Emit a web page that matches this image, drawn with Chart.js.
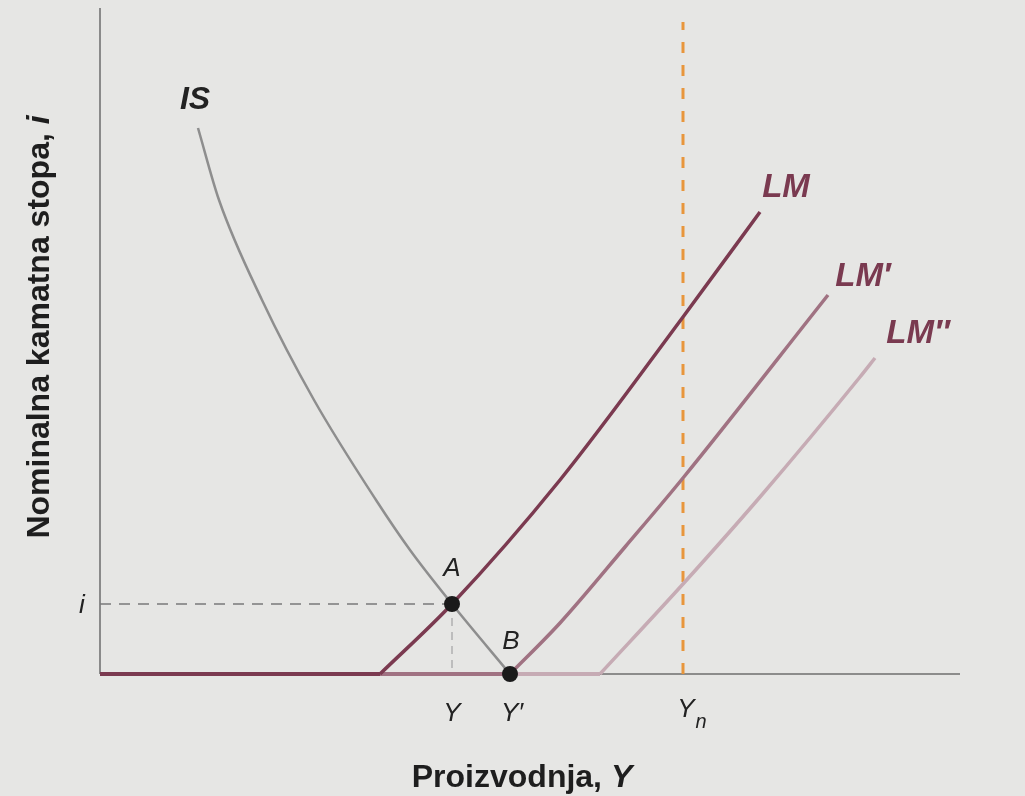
<!DOCTYPE html>
<html>
<head>
<meta charset="utf-8">
<script src="https://cdn.jsdelivr.net/npm/chart.js@4.4.1/dist/chart.umd.min.js"></script>
<style>
  html, body { margin: 0; padding: 0; background: #e6e6e4; }
  canvas { display: block; }
</style>
</head>
<body>
<canvas id="islmChart" width="1025" height="796"></canvas>
<script>
// curve values (output Y on x, interest rate i on y)
const isX = [9.8, 11.9, 16.2, 21.4, 27.6, 31, 35.2, 41];
const isY = [54.6, 47.4, 37.4, 27.4, 17.4, 12.4, 7, 0];

// rising parts of the LM curves, they start where the floor (i = 0) ends
const lmX = [28, 35.2, 46, 58.3, 66];
const lmY = [0, 7, 19.4, 35.7, 46.2];

const lm1X = [41, 46, 52.5, 58.3, 72.8];
const lm1Y = [0, 5.1, 12.7, 19.6, 37.9];

const lm2X = [50, 58.3, 66, 76, 77.5];
const lm2Y = [0, 9, 17.7, 29.7, 31.6];

const equilibriumX = [35.2, 41];   // A, B
const equilibriumY = [7, 0];
const pointNames = ["A", "B"];

const yNatural = 58.3;
const iLevel = 7;
const xMax = 86;
const yMax = 66.6;

const xTickLabels = ["Y", "Y\u2032", "Y"];

const CHART = document.getElementById("islmChart");
const FONT = "'Liberation Sans', Arial, sans-serif";

function toPoints(xs, ys) {
  let pts = [];
  for (let i = 0; i < xs.length; i++) {
    pts.push({ x: xs[i], y: ys[i] });
  }
  return pts;
}

function curve(label, xs, ys, color, width, order) {
  return {
    label: label,
    data: toPoints(xs, ys),
    showLine: true,
    borderColor: color,
    borderWidth: width,
    pointRadius: 0,
    cubicInterpolationMode: "monotone",
    order: order,
  };
}

function floor(label, xEnd, color, order) {
  return {
    label: label,
    data: [{ x: 0, y: 0 }, { x: xEnd, y: 0 }],
    showLine: true,
    borderColor: color,
    borderWidth: 4,
    pointRadius: 0,
    order: order,
  };
}

const bgPlugin = {
  id: "bg",
  beforeDraw(chart) {
    const c = chart.ctx;
    c.save();
    c.fillStyle = "#e6e6e4";
    c.fillRect(0, 0, chart.width, chart.height);
    c.restore();
  }
};

function twoPart(c, t1, t2, size, cx, cy) {
  c.font = "bold " + size + "px " + FONT;
  let w1 = c.measureText(t1).width;
  c.font = "italic bold " + size + "px " + FONT;
  let w2 = c.measureText(t2).width;
  let x0 = cx - (w1 + w2) / 2;
  c.textAlign = "left";
  c.font = "bold " + size + "px " + FONT;
  c.fillText(t1, x0, cy);
  c.font = "italic bold " + size + "px " + FONT;
  c.fillText(t2, x0 + w1, cy);
}

const textPlugin = {
  id: "texts",
  afterDraw(chart) {
    const c = chart.ctx;
    const sx = chart.scales.x;
    const sy = chart.scales.y;
    const px = v => sx.getPixelForValue(v);
    const py = v => sy.getPixelForValue(v);

    c.save();
    c.textAlign = "center";
    c.textBaseline = "middle";

    // curve names
    c.font = "italic bold 32px " + FONT;
    c.fillStyle = "#222222";
    c.fillText("IS", px(9.5), 100);
    c.font = "italic bold 33px " + FONT;
    c.fillStyle = "#7a3a50";
    c.fillText("LM", px(68.6), 188);
    c.fillText("LM\u2032", px(76.3), 277);
    c.fillText("LM\u2033", px(81.8), 334);

    // point names
    c.font = "italic 26px " + FONT;
    c.fillStyle = "#222222";
    c.fillText(pointNames[0], px(equilibriumX[0]), py(equilibriumY[0]) - 35);
    c.fillText(pointNames[1], px(equilibriumX[1]) + 1, py(equilibriumY[1]) - 32);

    // tick labels
    c.fillText("i", px(0) - 18, py(iLevel) + 2);
    c.fillText(xTickLabels[0], px(equilibriumX[0]), 714);
    c.fillText(xTickLabels[1], px(equilibriumX[1]) + 2, 714);
    c.fillText(xTickLabels[2], px(yNatural) + 3, 710);
    c.font = "italic 20px " + FONT;
    c.fillText("n", px(yNatural) + 18, 722);

    // axis titles
    c.fillStyle = "#1e1e1e";
    twoPart(c, "Proizvodnja, ", "Y", 32, 522, 778);

    c.translate(40, 327);
    c.rotate(-Math.PI / 2);
    twoPart(c, "Nominalna kamatna stopa, ", "i", 32, 0, 0);
    c.restore();
  }
};

let islmChart = new Chart(CHART, {
  type: "scatter",
  data: {
    datasets: [
      {
        label: "A, B",
        data: toPoints(equilibriumX, equilibriumY),
        pointRadius: 8,
        pointBackgroundColor: "#1a1a1a",
        pointBorderWidth: 0,
        showLine: false,
        order: 0,
      },
      curve("IS", isX, isY, "#8e8e8e", 2.5, 1),
      curve("LM", lmX, lmY, "#7b3a50", 3.5, 2),
      floor("LM floor", lmX[0], "#7b3a50", 2),
      curve("LM'", lm1X, lm1Y, "#a07282", 3.5, 3),
      floor("LM' floor", lm1X[0], "#a07282", 3),
      curve("LM''", lm2X, lm2Y, "#c6abb4", 3.5, 4),
      floor("LM'' floor", lm2X[0], "#c6abb4", 4),
      {
        label: "i",
        data: [{ x: 0, y: iLevel }, { x: equilibriumX[0], y: iLevel }],
        showLine: true,
        borderColor: "#7a7a7a",
        borderWidth: 1.5,
        borderDash: [11, 8],
        pointRadius: 0,
        order: 5,
      },
      {
        label: "Y",
        data: [{ x: equilibriumX[0], y: iLevel }, { x: equilibriumX[0], y: 0 }],
        showLine: true,
        borderColor: "#b0b0b0",
        borderWidth: 1.5,
        borderDash: [8, 6],
        pointRadius: 0,
        order: 5,
      },
      {
        label: "Yn",
        data: [{ x: yNatural, y: 0 }, { x: yNatural, y: 65.2 }],
        showLine: true,
        borderColor: "#e8963c",
        borderWidth: 3,
        borderDash: [11, 12],
        pointRadius: 0,
        order: 6,
      },
      {
        label: "axis x",
        data: [{ x: 0, y: 0 }, { x: xMax, y: 0 }],
        showLine: true,
        borderColor: "#6e6e6e",
        borderWidth: 1.5,
        pointRadius: 0,
        order: 10,
      },
      {
        label: "axis y",
        data: [{ x: 0, y: 0 }, { x: 0, y: yMax }],
        showLine: true,
        borderColor: "#8a8a8a",
        borderWidth: 2,
        pointRadius: 0,
        order: 10,
      },
    ],
  },
  options: {
    responsive: false,
    animation: false,
    devicePixelRatio: 1,
    clip: false,
    layout: {
      padding: { left: 100, right: 65, top: 8, bottom: 122 },
    },
    plugins: {
      legend: { display: false },
      tooltip: { enabled: false },
    },
    scales: {
      x: { type: "linear", min: 0, max: xMax, display: false },
      y: { type: "linear", min: 0, max: yMax, display: false },
    },
  },
  plugins: [bgPlugin, textPlugin],
});
</script>
</body>
</html>
